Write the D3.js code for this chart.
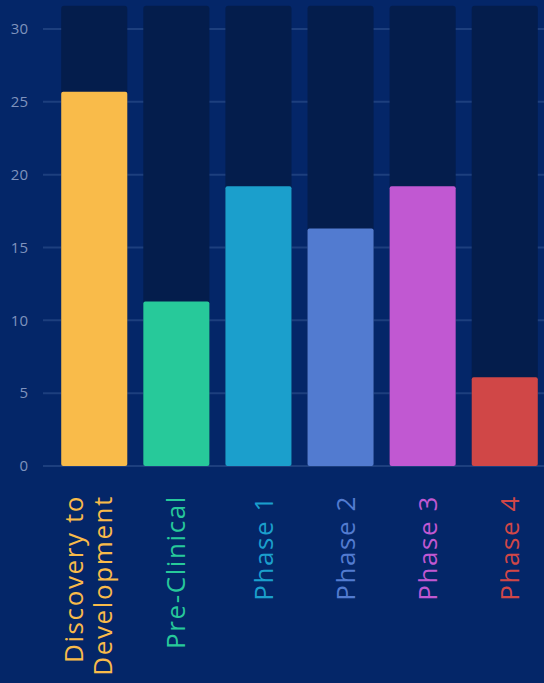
<!DOCTYPE html>
<html><head><meta charset="utf-8">
<script src="https://cdn.jsdelivr.net/npm/d3@7"></script>
<style>
html,body{margin:0;padding:0;background:#042668;}
svg{display:block;}
</style></head>
<body>
<svg id="chart" width="544" height="683"></svg>
<script>
const categories = ["Discovery to Development","Pre-Clinical","Phase 1","Phase 2","Phase 3","Phase 4"];
const values = [25.7, 11.3, 19.2, 16.3, 19.2, 6.1];
const trackMax = 31.6;
const colors = ["#f9bb4a","#27c99a","#1b9fcc","#527bd0","#c158d2","#d04747"];
const yTicks = [0,5,10,15,20,25,30];

const svg = d3.select("#chart");
const W = 544, H = 683;
const x = d3.scaleBand().domain(categories).range([53, 546]).paddingInner(0.195).paddingOuter(0.1);
const y = d3.scaleLinear().domain([0, 30]).range([466, 29]);

// gridlines
svg.append("g").selectAll("line").data(yTicks).join("line")
  .attr("x1", 43).attr("x2", W)
  .attr("y1", d => y(d)).attr("y2", d => y(d))
  .attr("stroke", "#1d3f7e").attr("stroke-width", 2);

// y axis labels
const yAxis = d3.axisLeft(y).tickValues(yTicks).tickSize(0).tickPadding(0);
const ga = svg.append("g").attr("transform", "translate(28,0)").call(yAxis);
ga.select(".domain").remove();
ga.selectAll("text").attr("fill", "#7f93bd").attr("font-size", 15)
  .attr("font-family", "'Open Sans', sans-serif");

// tracks
svg.append("g").selectAll("rect").data(categories).join("rect")
  .attr("x", d => x(d)).attr("width", x.bandwidth())
  .attr("y", y(trackMax)).attr("height", y(0) - y(trackMax))
  .attr("rx", 3).attr("fill", "#041d4c");

// bars
svg.append("g").selectAll("rect").data(values).join("rect")
  .attr("x", (d, i) => x(categories[i])).attr("width", x.bandwidth())
  .attr("y", d => y(d)).attr("height", d => y(0) - y(d))
  .attr("rx", 2).attr("fill", (d, i) => colors[i]);

// category labels (rotated)
const lab = svg.append("g").selectAll("text").data(categories).join("text")
  .attr("transform", d => `translate(${x(d) + x.bandwidth() / 2},495) rotate(-90)`)
  .attr("text-anchor", "end")
  .attr("font-family", "'Open Sans', sans-serif")
  .attr("font-size", 26)
  .attr("letter-spacing", 1.6)
  .attr("fill", (d, i) => colors[i]);
lab.each(function(d, i) {
  const t = d3.select(this);
  const words = d.split(" ");
  if (words.length > 2) {
    const l1 = words.slice(0, 2).join(" "), l2 = words.slice(2).join(" ");
    t.append("tspan").attr("x", 0).attr("dy", "-0.43em").text(l1);
    t.append("tspan").attr("x", 0).attr("dy", "1.12em").text(l2);
  } else {
    t.append("tspan").attr("x", 0).attr("dy", i === 1 ? "0.35em" : "0.55em").text(d);
  }
});
</script>
</body></html>
